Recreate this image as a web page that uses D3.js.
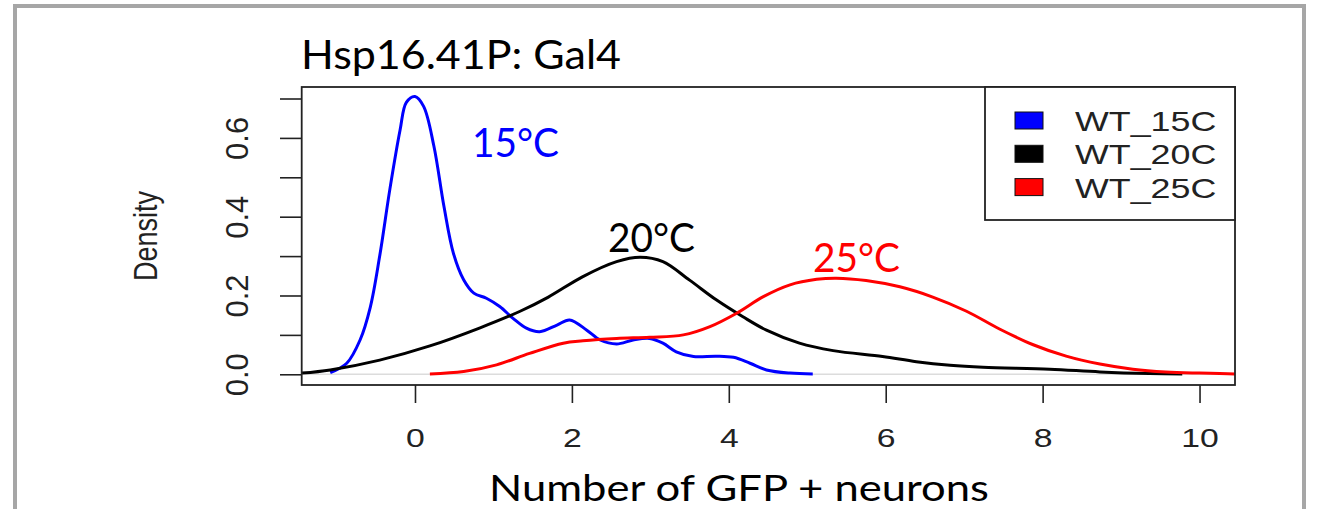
<!DOCTYPE html>
<html>
<head>
<meta charset="utf-8">
<script src="https://cdn.jsdelivr.net/npm/d3@7"></script>
<style>
  body { margin: 0; background: #fff; }
</style>
</head>
<body>
<div id="chart"></div>
<script>
// density curves
var x15 = [-1.08, -0.87, -0.70, -0.57, -0.45, -0.32, -0.19, -0.11, 0, 0.11, 0.24, 0.37, 0.49, 0.62, 0.75, 0.91, 1.08, 1.25, 1.42, 1.59, 1.81, 1.97, 2.19, 2.36, 2.57, 2.78, 2.99, 3.16, 3.33, 3.55, 3.84, 4.06, 4.27, 4.48, 4.78, 5.07];
var d15 = [0.004, 0.028, 0.087, 0.17, 0.30, 0.47, 0.62, 0.69, 0.705, 0.68, 0.58, 0.425, 0.307, 0.24, 0.206, 0.193, 0.172, 0.142, 0.117, 0.108, 0.125, 0.138, 0.112, 0.087, 0.077, 0.087, 0.091, 0.079, 0.057, 0.045, 0.046, 0.043, 0.028, 0.011, 0.003, 0.001];

var x20 = [-1.44, -1.08, -0.45, 0.19, 0.83, 1.34, 1.70, 2.14, 2.57, 2.87, 3.16, 3.50, 3.84, 4.18, 4.48, 4.90, 5.33, 5.96, 6.39, 6.82, 7.24, 8.09, 8.73, 9.36, 9.78];
var d20 = [0.003, 0.011, 0.036, 0.072, 0.118, 0.16, 0.196, 0.248, 0.286, 0.297, 0.286, 0.239, 0.189, 0.146, 0.112, 0.079, 0.06, 0.045, 0.032, 0.023, 0.018, 0.013, 0.006, 0.002, 0.001];

var x25 = [0.19, 0.62, 1.04, 1.46, 1.89, 2.14, 2.57, 2.99, 3.42, 3.76, 4.10, 4.44, 4.78, 5.12, 5.37, 5.75, 6.18, 6.60, 7.03, 7.45, 7.88, 8.30, 8.73, 9.15, 9.57, 10.0, 10.45, 10.8];
var d25 = [0.001, 0.007, 0.024, 0.053, 0.079, 0.085, 0.091, 0.094, 0.1, 0.121, 0.155, 0.197, 0.227, 0.241, 0.244, 0.238, 0.222, 0.196, 0.16, 0.115, 0.075, 0.046, 0.026, 0.013, 0.006, 0.003, 0.001, 0.001];

var seriesNames = ["WT_15C", "WT_20C", "WT_25C"];
var seriesColors = ["#0000ff", "#000000", "#ff0000"];
var curveLabels = ["15°C", "20°C", "25°C"];
var xTicks = [0, 2, 4, 6, 8, 10];
var yTicks = [0, 0.1, 0.2, 0.3, 0.4, 0.5, 0.6, 0.7];
var yLabelled = [0, 0.2, 0.4, 0.6];

var W = 1317, H = 509;
var box = { left: 301.7, right: 1235, top: 87, bottom: 385 };

var svg = d3.select("#chart")
    .append("svg")
    .attr("width", W)
    .attr("height", H);

// slide frame
svg.append("rect")
    .attr("x", 15).attr("y", 6)
    .attr("width", 1304 - 15).attr("height", H + 20)
    .attr("fill", "none")
    .attr("stroke", "#a6a6a6")
    .attr("stroke-width", 4);

var x = d3.scaleLinear()
    .domain([-1.444, 10.452])
    .range([box.left, box.right]);
var y = d3.scaleLinear()
    .domain([-0.0272, 0.7292])
    .range([box.bottom, box.top]);

svg.append("clipPath").attr("id", "plotclip")
    .append("rect")
    .attr("x", box.left).attr("y", box.top)
    .attr("width", box.right - box.left).attr("height", box.bottom - box.top);

// zero line
svg.append("line")
    .attr("x1", box.left).attr("x2", box.right)
    .attr("y1", y(0)).attr("y2", y(0))
    .attr("stroke", "#dcdcdc")
    .attr("stroke-width", 1.5);

var line = d3.line()
    .x(function (d) { return x(d[0]) })
    .y(function (d) { return y(d[1]) })
    .curve(d3.curveCatmullRom.alpha(0.5));

var allSeries = [
    d3.zip(x15, d15),
    d3.zip(x20, d20),
    d3.zip(x25, d25)
];

var curves = svg.append("g").attr("clip-path", "url(#plotclip)");
allSeries.forEach(function (s, i) {
    curves.append("path")
        .datum(s)
        .attr("d", line)
        .attr("fill", "none")
        .attr("stroke", seriesColors[i])
        .attr("stroke-width", 3)
        .attr("stroke-linejoin", "round");
});

// x axis
var xAxis = svg.append("g")
    .attr("transform", "translate(0," + box.bottom + ")")
    .call(d3.axisBottom(x).tickValues(xTicks).tickSizeInner(18).tickSizeOuter(0).tickFormat(d3.format("d")));
xAxis.select(".domain").remove();
xAxis.selectAll("line").attr("stroke", "#222").attr("stroke-width", 1.6);
xAxis.selectAll("text")
    .attr("y", 62).attr("dy", 0)
    .attr("transform", "scale(1.35,1)")
    .attr("fill", "#222")
    .style("font-family", "'Liberation Sans', Arial, sans-serif")
    .style("font-size", "25px");

// y axis
var yAxis = svg.append("g")
    .attr("transform", "translate(" + box.left + ",0)")
    .call(d3.axisLeft(y).tickValues(yTicks).tickSizeInner(21.7).tickSizeOuter(0)
        .tickFormat(function (d) { return yLabelled.some(function (v) { return Math.abs(v - d) < 1e-9 }) ? d3.format(".1f")(d) : "" }));
yAxis.select(".domain").remove();
yAxis.selectAll("line").attr("stroke", "#222").attr("stroke-width", 1.6);
yAxis.selectAll("text")
    .attr("x", 0).attr("dy", 0)
    .attr("text-anchor", "middle")
    .attr("transform", "translate(-53.7,0) rotate(-90)")
    .attr("fill", "#222")
    .style("font-family", "'Liberation Sans', Arial, sans-serif")
    .style("font-size", "31px");

svg.append("text")
    .attr("transform", "translate(157," + ((box.top + box.bottom) / 2) + ") rotate(-90) scale(1,1.25)")
    .attr("text-anchor", "middle")
    .attr("fill", "#222")
    .style("font-family", "'Liberation Sans', Arial, sans-serif")
    .style("font-size", "27px")
    .text("Density");

// plot box
svg.append("rect")
    .attr("x", box.left).attr("y", box.top)
    .attr("width", box.right - box.left).attr("height", box.bottom - box.top)
    .attr("fill", "none")
    .attr("stroke", "#222")
    .attr("stroke-width", 1.8);

// legend
var legend = svg.append("g");
legend.append("rect")
    .attr("x", 985).attr("y", box.top)
    .attr("width", box.right - 985).attr("height", 220 - box.top)
    .attr("fill", "#fff")
    .attr("stroke", "#222")
    .attr("stroke-width", 1.8);
seriesNames.forEach(function (name, i) {
    var cy = 120.5 + i * 33.3;
    legend.append("rect")
        .attr("x", 1015).attr("y", cy - 8.5)
        .attr("width", 28).attr("height", 17)
        .attr("fill", seriesColors[i])
        .attr("stroke", "#111")
        .attr("stroke-width", 1);
    legend.append("text")
        .attr("transform", "translate(1075," + (cy + 10.5) + ") scale(1.28,1)")
        .attr("fill", "#222")
        .style("font-family", "'Liberation Sans', Arial, sans-serif")
        .style("font-size", "28px")
        .text(name);
});

// slide text
var slideFont = "Lato, 'Open Sans', sans-serif";
function slideText(txt, tx, ty, len, color, size) {
    svg.append("text")
        .attr("x", tx).attr("y", ty)
        .attr("textLength", len)
        .attr("lengthAdjust", "spacingAndGlyphs")
        .attr("fill", color)
        .style("font-family", slideFont)
        .style("font-size", (size || 40) + "px")
        .text(txt);
}
slideText("Hsp16.41P: Gal4", 301, 69, 320, "#000");
slideText("Number of GFP + neurons", 489, 501, 500, "#000", 37);

var labelPos = [[472, 157], [608, 252], [813, 272]];
curveLabels.forEach(function (t, i) {
    slideText(t, labelPos[i][0], labelPos[i][1], 87, seriesColors[i]);
});
</script>
</body>
</html>
